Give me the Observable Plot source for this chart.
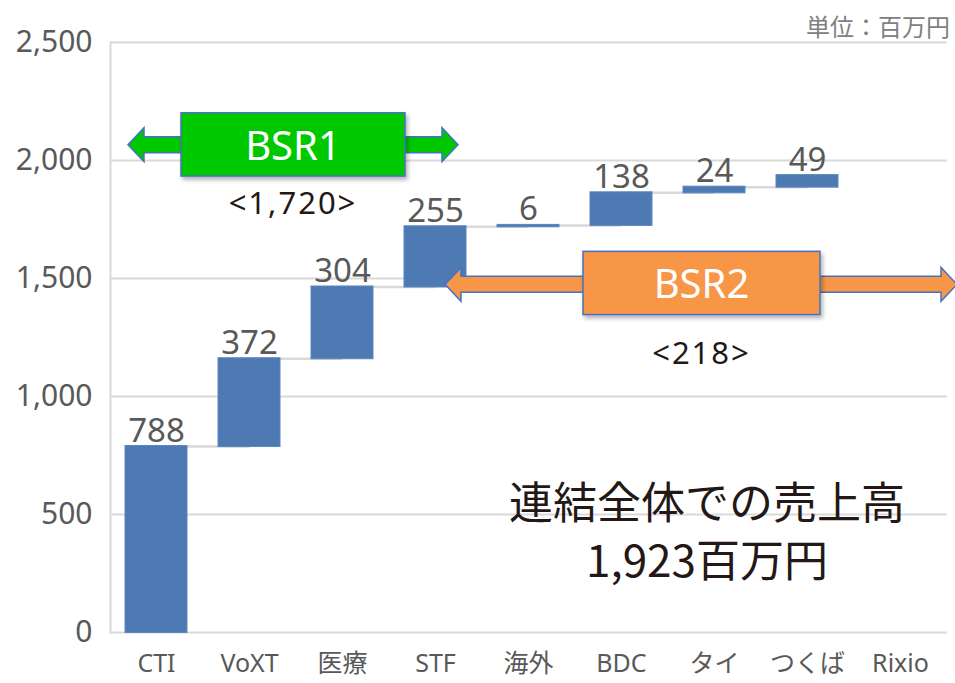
<!DOCTYPE html>
<html>
<head>
<meta charset="utf-8">
<script src="https://cdn.jsdelivr.net/npm/d3@7"></script>
<script src="https://cdn.jsdelivr.net/npm/@observablehq/plot@0.6"></script>
<style>
  html, body { margin: 0; padding: 0; background: #fff; }
  #chart svg { display: block; }
</style>
</head>
<body>
<div id="chart"></div>
<script>
// ---- data ----
const categories = ["CTI", "VoXT", "医療", "STF", "海外", "BDC", "タイ", "つくば", "Rixio"];
const values = [788, 372, 304, 255, 6, 138, 24, 49, null];
const yTicks = [0, 500, 1000, 1500, 2000, 2500];
const unitLabel = "単位：百万円";
const totalLines = ["連結全体での売上高", "1,923百万円"];
const groupNames = ["BSR1", "BSR2"];
const groupTotals = ["<1,720>", "<218>"];

// ---- build waterfall table ----
let run = 0;
const rows = [];
categories.forEach((cat, i) => {
  const v = values[i];
  if (v == null) return;
  rows.push({cat, value: v, start: run, end: run + v});
  run += v;
});
const connectors = rows.slice(0, -1).map((r, i) => ({from: r.cat, to: rows[i + 1].cat, level: r.end}));

const FONT = '"Noto Sans", "Noto Sans CJK JP", sans-serif';
const W = 955, H = 683;

const plot = Plot.plot({
  width: W,
  height: H,
  marginLeft: 110,
  marginRight: 8,
  marginTop: 42,
  marginBottom: 51,
  style: {fontFamily: FONT, background: "#fff", overflow: "visible"},
  x: {domain: categories, paddingInner: 0.33, paddingOuter: 0.165, label: null},
  y: {domain: [0, 2500], label: null},
  marks: [
    Plot.gridY(yTicks, {stroke: "#d9d9d9", strokeOpacity: 1, strokeWidth: 1.8}),
    Plot.frame({anchor: "left", stroke: "#d9d9d9", strokeWidth: 2}),
    Plot.axisY({ticks: yTicks, tickFormat: d3.format(","), tickSize: 0, tickPadding: 18,
      fontSize: 30, fill: "#595959"}),
    Plot.axisX({tickSize: 0, tickPadding: 22, fontSize: 25, fill: "#595959"}),
    Plot.link(connectors, {x1: "from", x2: "to", y1: "level", y2: "level",
      stroke: "#d9d9d9", strokeWidth: 2.5}),
    Plot.barY(rows, {x: "cat", y1: "start", y2: "end", fill: "#4e7ab4",
      stroke: "#5b86bf", strokeWidth: 1, insetTop: -0.5, insetBottom: -0.5}),
    Plot.text(rows, {x: "cat", y: "end", text: d => d3.format(",")(d.value),
      lineAnchor: "bottom", dy: -5, fontSize: 33, fill: "#595959"})
  ]
});
document.getElementById("chart").appendChild(plot);

// ---- annotations (drawn via d3 on top of the Plot SVG, using the y scale) ----
const svg = d3.select(plot);
const ys = plot.scale("y");
const Y = v => ys.apply(v);

const defs = svg.append("defs");
const f = defs.append("filter").attr("id", "shadow").attr("x", "-10%").attr("y", "-10%")
  .attr("width", "130%").attr("height", "140%");
f.append("feDropShadow").attr("dx", 2).attr("dy", 3).attr("stdDeviation", 2)
  .attr("flood-color", "#000").attr("flood-opacity", 0.3);

function dblArrow(x0, x1, cy, shaft, head, headLen) {
  return `M${x0},${cy} L${x0 + headLen},${cy - head} L${x0 + headLen},${cy - shaft} ` +
    `L${x1 - headLen},${cy - shaft} L${x1 - headLen},${cy - head} L${x1},${cy} ` +
    `L${x1 - headLen},${cy + head} L${x1 - headLen},${cy + shaft} ` +
    `L${x0 + headLen},${cy + shaft} L${x0 + headLen},${cy + head} Z`;
}

const groupsCfg = [
  {name: groupNames[0], total: groupTotals[0], fill: "#00c800", tipL: 128, tipR: 458,
   cyV: 2065, boxL: 181, boxR: 405, boxTopV: 2200, boxBotV: 1932, subV: 1820},
  {name: groupNames[1], total: groupTotals[1], fill: "#f79646", tipL: 445, tipR: 957,
   cyV: 1473, boxL: 583, boxR: 820, boxTopV: 1613, boxBotV: 1345, subV: 1188}
];

const ann = svg.append("g");
groupsCfg.forEach(g => {
  const cy = Y(g.cyV);
  ann.append("path")
    .attr("d", dblArrow(g.tipL, g.tipR, cy, 8, 17, 16))
    .attr("fill", g.fill).attr("stroke", "#4472c4").attr("stroke-width", 1.5)
    .attr("stroke-linejoin", "miter");
  ann.append("rect")
    .attr("x", g.boxL).attr("y", Y(g.boxTopV))
    .attr("width", g.boxR - g.boxL).attr("height", Y(g.boxBotV) - Y(g.boxTopV))
    .attr("fill", g.fill).attr("stroke", "#4472c4").attr("stroke-width", 1.5)
    .attr("filter", "url(#shadow)");
  ann.append("text")
    .attr("x", (g.boxL + g.boxR) / 2).attr("y", (Y(g.boxTopV) + Y(g.boxBotV)) / 2)
    .attr("text-anchor", "middle").attr("dominant-baseline", "central")
    .attr("font-family", FONT).attr("font-size", 40).attr("fill", "#fff")
    .text(g.name);
  ann.append("text")
    .attr("x", (g.boxL + g.boxR) / 2).attr("y", Y(g.subV))
    .attr("text-anchor", "middle").attr("dominant-baseline", "central")
    .attr("font-family", FONT).attr("font-size", 31).attr("letter-spacing", 2)
    .attr("fill", "#231815")
    .text(g.total);
});

// total sales text
const totalCx = 707;
[560, 315].forEach((v, i) => {
  ann.append("text")
    .attr("x", totalCx).attr("y", Y(v))
    .attr("text-anchor", "middle").attr("dominant-baseline", "central")
    .attr("font-family", '"Noto Sans CJK JP", sans-serif').attr("font-size", 44)
    .attr("fill", "#231815")
    .text(totalLines[i]);
});

// unit label
ann.append("text")
  .attr("x", 950).attr("y", 25)
  .attr("text-anchor", "end").attr("dominant-baseline", "central")
  .attr("font-family", '"Noto Sans CJK JP", sans-serif').attr("font-size", 24)
  .attr("fill", "#808080")
  .text(unitLabel);
</script>
</body>
</html>
